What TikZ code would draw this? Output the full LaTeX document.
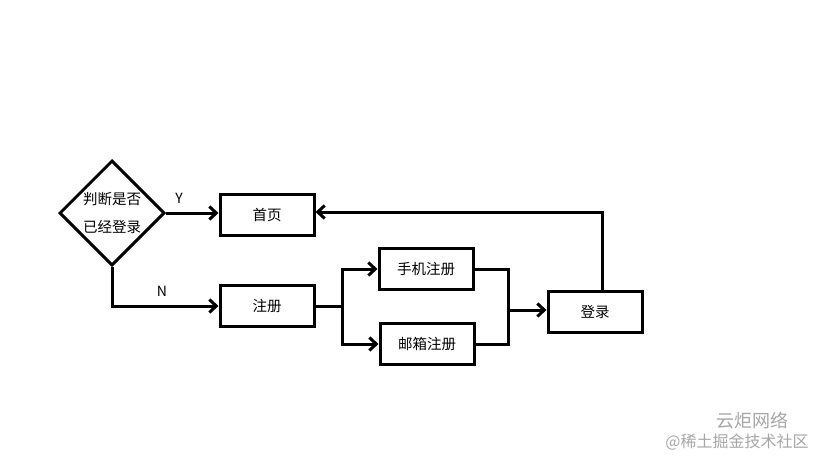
\documentclass[tikz,border=0pt]{standalone}
\usepackage{fontspec}
\setmainfont{Noto Sans CJK SC}
\usepackage{tikz}
\usetikzlibrary{arrows.meta, shapes.geometric}

\begin{document}
\begin{tikzpicture}[
    x=1pt, y=-1pt,
    box/.style={rectangle, draw=black, line width=3pt, minimum width=94pt, minimum height=41pt, inner sep=0pt, font=\fontsize{14.5}{18}\selectfont},
    decision/.style={diamond, draw=black, line width=3pt, minimum width=105pt, minimum height=105pt, inner sep=0pt, align=center, font=\fontsize{14.5}{28}\selectfont},
    line/.style={line width=3pt},
    arrow/.style={-{Straight Barb[length=7pt, width=13pt]}, line width=3pt},
    lbl/.style={font=\fontsize{14}{16}\selectfont},
    watermark/.style={text=black!35, font=\fontsize{18}{20}\selectfont}
]
\useasboundingbox (0,0) rectangle (819,460);

\node[decision] (judge) at (112,213) {判断是否\\已经登录};

\node[box] (home) at (267,215) {首页};
\node[box] (reg) at (267,306) {注册};
\node[box] (phone) at (426,269) {手机注册};
\node[box] (mail) at (427,344) {邮箱注册};
\node[box] (login) at (595,312) {登录};

\node[lbl] (yes) at (179,198) {Y};
\node[lbl] (no) at (162,291) {N};

\coordinate (split) at (342,306);
\coordinate (merge) at (508,310);
\coordinate (back) at (602,212);

\draw[arrow] (judge.east) -- (judge.east -| home.west);
\draw[arrow] (judge.south) |- (reg.west);

\draw[line] (reg.east) -- (split);
\draw[arrow] (split) |- (phone.west);
\draw[arrow] (split) |- (mail.west);

\draw[line] (phone.east) -| (merge);
\draw[line] (mail.east) -| (merge);
\draw[arrow] (merge) -- (merge -| login.west);

\draw[arrow] (login.north -| back) -- (back) -- (back -| home.east);

% watermark
\node[watermark] (brand) at (752,421) {云炬网络};
\node[watermark, font=\fontsize{16}{18}\selectfont] (site) at (737,442) {@稀土掘金技术社区};
\end{tikzpicture}
\end{document}
